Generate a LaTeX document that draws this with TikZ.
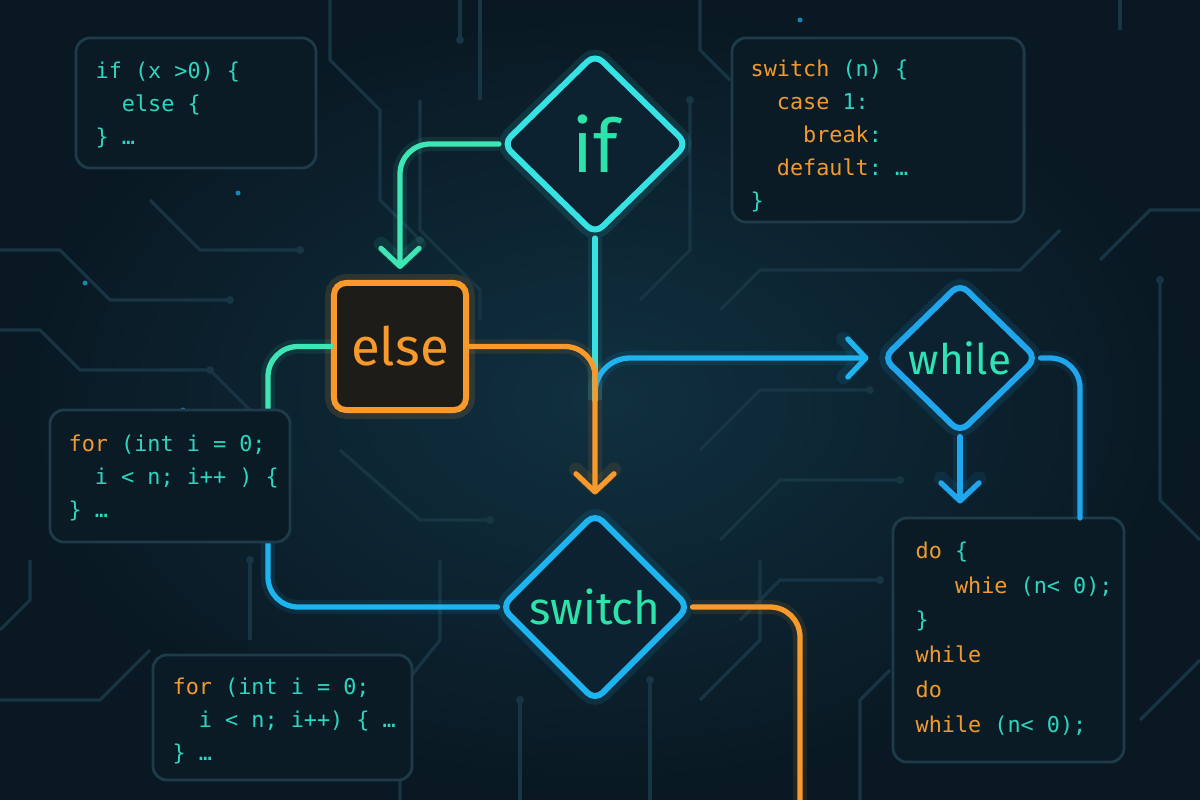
\documentclass[tikz,border=0pt]{standalone}
\usepackage{fontspec}
\setmonofont{DejaVu Sans Mono}
\newfontfamily\labelfont{Fira Sans}
\usetikzlibrary{shapes.geometric, arrows.meta}
\definecolor{bgnavy}{HTML}{091822}
\definecolor{bglight}{HTML}{103040}
\definecolor{tracecol}{HTML}{173545}
\definecolor{ifcyan}{HTML}{36E2E4}
\definecolor{flowgreen}{HTML}{3DE6B4}
\definecolor{flowblue}{HTML}{1DB4F0}
\definecolor{whileblue}{HTML}{1FA6EC}
\definecolor{floworange}{HTML}{F79A2B}
\definecolor{labelgreen}{HTML}{2EE3A9}
\definecolor{codeteal}{HTML}{2DD6BE}
\definecolor{codeorange}{HTML}{F29A2E}
\definecolor{boxfill}{HTML}{0A1B26}
\definecolor{boxedge}{HTML}{1E3B4A}
\definecolor{diafill}{HTML}{0C2230}
\definecolor{elsefill}{HTML}{1E1C18}
\newcommand{\kw}[1]{\textcolor{codeorange}{#1}}

\begin{document}
\begin{tikzpicture}[x=0.01cm, y=-0.01cm,
  trace/.style={draw=tracecol, line width=0.9pt},
  decision/.style={diamond, draw=#1, fill=diafill, line width=1.7pt,
    rounded corners=3pt, inner sep=0pt,
    preaction={draw=#1, line width=5pt, draw opacity=0.12}},
  flow/.style={draw=#1, line width=1.5pt, rounded corners=0.3cm, line cap=round,
    preaction={draw=#1, line width=4pt, draw opacity=0.1}},
  flowarrow/.style={-{Straight Barb[length=1.8mm, width=3.8mm, round]}},
  codebox/.style={draw=boxedge, fill=boxfill, rounded corners=4pt,
    line width=0.8pt, inner sep=0pt},
  codetext/.style={anchor=north west, inner sep=0pt, align=left,
    text=codeteal, font=\ttfamily\fontsize{6.2}{9.4}\selectfont}]

  % background
  \fill[bgnavy] (0,0) rectangle (1200,800);
  \shade[inner color=bglight, outer color=bgnavy] (0,0) rectangle (1200,800);
  \useasboundingbox (0,0) rectangle (1200,800);

  % circuit traces
  \draw[trace] (0,250) -- (60,250) -- (110,300) -- (230,300);
  \draw[trace] (0,330) -- (40,330) -- (80,370) -- (210,370) -- (260,420);
  \draw[trace] (30,560) -- (30,600) -- (0,630);
  \draw[trace] (330,0) -- (330,60) -- (380,110) -- (380,200) -- (420,240);
  \draw[trace] (420,100) -- (420,230) -- (480,290) -- (480,320);
  \draw[trace] (460,0) -- (460,40);
  \draw[trace] (640,300) -- (690,250) -- (690,100);
  \draw[trace] (700,0) -- (700,50) -- (730,80);
  \draw[trace] (1060,230) -- (1020,270) -- (760,270) -- (720,310);
  \draw[trace] (1100,260) -- (1150,210) -- (1200,210);
  \draw[trace] (700,450) -- (760,390) -- (870,390);
  \draw[trace] (720,540) -- (780,480) -- (900,480);
  \draw[trace] (740,620) -- (780,580) -- (880,580);
  \draw[trace] (1160,280) -- (1160,500) -- (1200,540);
  \draw[trace] (1140,720) -- (1200,660);
  \draw[trace] (0,700) -- (100,700) -- (150,650);
  \draw[trace] (340,450) -- (420,520) -- (490,520);
  \draw[trace] (440,560) -- (440,640) -- (400,690) -- (400,800);
  \draw[trace] (520,700) -- (520,800);
  \draw[trace] (650,680) -- (650,800);
  \draw[trace] (700,700) -- (760,640) -- (760,560);
  \draw[trace] (250,560) -- (250,640);
  \draw[trace] (860,800) -- (860,700) -- (890,670);
  \draw[trace] (480,100) -- (480,0);
  \draw[trace] (150,200) -- (200,250) -- (300,250);
  \draw[trace] (1120,0) -- (1120,30);
  \foreach \dot in {(230,300),(210,370),(420,240),(460,40),(690,100),(870,390),
    (900,480),(880,580),(490,520),(520,700),(650,680),(250,560),(300,250),(1160,280)}
    \fill[tracecol] \dot circle (4);
  \foreach \spark in {(238,193),(85,283),(183,410),(800,20)}
    \fill[flowblue, opacity=0.7] \spark circle (2.5);

  % code boxes
  \node[codebox, minimum width=2.4cm, minimum height=1.3cm] (ifbox) at (196,103) {};
  \node[codetext] (ifcode) at (95,61) {if (x >0) \{\\~~else \{\\\} \dots};
  \node[codebox, minimum width=2.92cm, minimum height=1.84cm] (switchbox) at (878,130) {};
  \node[codetext] (switchcode) at (750,59) {\kw{switch} (n) \{\\
    ~~\kw{case} 1:\\~~~~\kw{break}:\\~~\kw{default}: \dots\\\}};
  \node[codebox, minimum width=2.59cm, minimum height=1.25cm] (loopbox) at (282.5,717.5) {};
  \node[codetext] (loopcode) at (172,677) {\kw{for} (int i = 0;\\~~i < n; i++) \{ \dots\\\} \dots};
  \node[codebox, minimum width=2.31cm, minimum height=2.44cm] (dobox) at (1008.5,640) {};
  \node[codetext, font=\ttfamily\fontsize{6.2}{9.9}\selectfont] (docode) at (915,541)
    {\kw{do} \{\\~~~\kw{whie} (n< 0);\\\}\\\kw{while}\\\kw{do}\\\kw{while} (n< 0);};

  % decision nodes
  \node[decision=ifcyan, minimum width=1.86cm, minimum height=1.82cm, text=labelgreen,
    font=\labelfont\fontsize{21}{21}\selectfont] (if) at (595,144) {if};
  \node[draw=floworange, fill=elsefill, line width=1.7pt, rounded corners=0.12cm,
    minimum width=1.32cm, minimum height=1.27cm, text=floworange,
    font=\labelfont\fontsize{15}{15}\selectfont,
    preaction={draw=floworange, line width=5pt, draw opacity=0.14}] (else) at (400,346.5) {else};
  \node[decision=flowblue, minimum width=1.89cm, minimum height=1.89cm, text=labelgreen,
    font=\labelfont\fontsize{13}{13}\selectfont] (switch) at (595,607) {switch};
  \node[decision=whileblue, minimum width=1.55cm, minimum height=1.51cm, text=labelgreen!80!ifcyan,
    font=\labelfont\fontsize{12}{12}\selectfont] (while) at (960,358) {while};

  \coordinate (fork) at (595,400);
  \coordinate (forkL) at (268,476);
  \coordinate (exitS) at (800,810);
  \coordinate (doin) at (1080,518);

  % connectors
  \draw[flow=flowgreen, flowarrow, shorten >=0.11cm] (if.west) -| (else.north);
  \draw[flow=ifcyan] (if.south) -- (fork);
  \draw[flow=flowblue, flowarrow, rounded corners=0.35cm, shorten >=0.11cm] (fork) |- (while.west);
  \draw[flow=floworange, flowarrow, shorten >=0.15cm] (else.east) -| (switch.north);
  \draw[flow=flowgreen] (else.west) -| (forkL);
  \draw[flow=flowblue] (forkL) |- (switch.west);
  \draw[flow=floworange] (switch.east) -| (exitS);
  \draw[flow=whileblue] (while.east) -| (doin);
  \draw[flow=whileblue, flowarrow, shorten >=0.13cm] (while.south) -- (while.south |- dobox.north);

  % loop box sits over the left connector
  \node[codebox, minimum width=2.4cm, minimum height=1.32cm] (forbox) at (170,476) {};
  \node[codetext] (forcode) at (68,434) {\kw{for} (int i = 0;\\~~i < n; i++ ) \{\\\} \dots};

\end{tikzpicture}
\end{document}
